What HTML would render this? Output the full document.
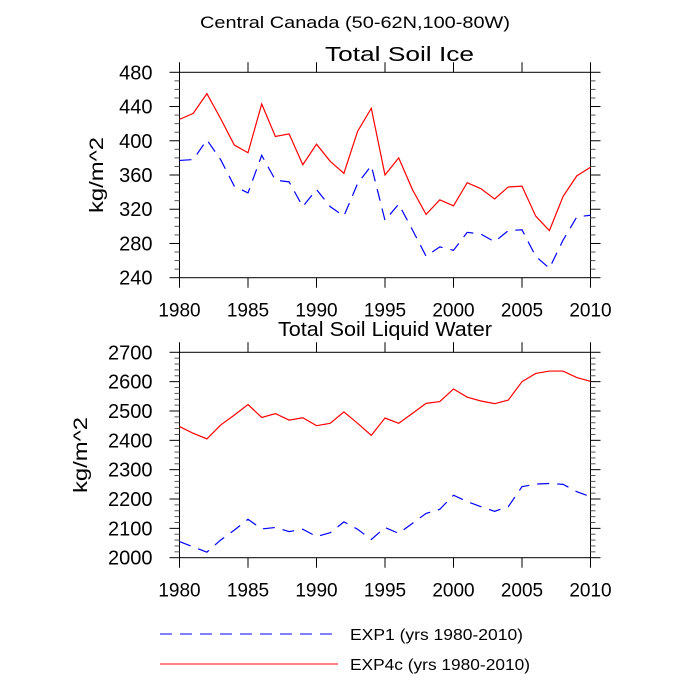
<!DOCTYPE html>
<html><head><meta charset="utf-8"><style>
body{margin:0;background:#fff}
svg{display:block;font-family:"Liberation Sans",sans-serif}
</style></head><body>
<svg id="chart" width="700" height="700" xmlns="http://www.w3.org/2000/svg">
<text x="200" y="28" font-size="17" textLength="310" lengthAdjust="spacingAndGlyphs">Central Canada (50-62N,100-80W)</text>
<text x="325" y="61" font-size="20" textLength="149" lengthAdjust="spacingAndGlyphs">Total Soil Ice</text>
<text x="278" y="336" font-size="20" textLength="214" lengthAdjust="spacingAndGlyphs">Total Soil Liquid Water</text>
<g id="p1"></g><g id="p2"></g>
<line x1="160" y1="634" x2="338" y2="634" stroke="#0000ff" stroke-dasharray="12,8"/>
<text x="350" y="640" font-size="16" textLength="173" lengthAdjust="spacingAndGlyphs">EXP1 (yrs 1980-2010)</text>
<line x1="160" y1="664" x2="338" y2="664" stroke="#ff0000"/>
<text x="350" y="670" font-size="16" textLength="180" lengthAdjust="spacingAndGlyphs">EXP4c (yrs 1980-2010)</text>
</svg>
<script>
const years=[];for(let y=1980;y<=2010;y++)years.push(y);
const xTicks=[1980,1985,1990,1995,2000,2005,2010];
const iceExp4c=[425,432,455,426,395,386,443,405,408,372,396,376,362,411,438,360,380,343,314,331,324,351,344,332,346,347,312,295,335,359,369];
const iceExp1=[377,378,401,378,347,339,383,354,352,323,343,323,312,350,371,307,326,296,265,276,272,293,291,282,295,296,265,251,284,311,313];
const iceTicks=[240,280,320,360,400,440,480];
const waterExp4c=[2447,2424,2405,2452,2486,2522,2478,2491,2469,2477,2450,2458,2497,2458,2417,2476,2458,2492,2526,2532,2575,2547,2534,2525,2537,2600,2628,2636,2636,2614,2601];
const waterExp1=[2055,2037,2019,2060,2094,2131,2098,2103,2089,2097,2072,2085,2122,2097,2062,2103,2083,2117,2151,2165,2213,2191,2174,2158,2174,2242,2251,2253,2250,2225,2208];
const waterTicks=[2000,2100,2200,2300,2400,2500,2600,2700];
const NS="http://www.w3.org/2000/svg";
function mk(g,t,a){const e=document.createElementNS(NS,t);for(const k in a)e.setAttribute(k,a[k]);g.appendChild(e);return e;}
function panel(gid,top,bot,ymin,ymax,ticks,minorStep,s1,s2,nm){
 const g=document.getElementById(gid);const L=179.5,R=590.5;
 const xs=v=>L+(v-1980)/30*(R-L);const ys=v=>bot-(v-ymin)/(ymax-ymin)*(bot-top);
 const fr=mk(g,'rect',{x:L,y:top,width:R-L,height:bot-top,fill:'none',stroke:'#000','stroke-width':1});
 
 
 for(let v=ymin;v<=ymax+1e-6;v+=minorStep){const y=ys(v);const maj=ticks.includes(Math.round(v));const l=maj?10:5;
  mk(g,'line',{x1:L-l,y1:y,x2:L,y2:y,stroke:maj?'#000':'#555'});mk(g,'line',{x1:R,y1:y,x2:R+l,y2:y,stroke:maj?'#000':'#555'});}
 ticks.forEach(v=>{const t=mk(g,'text',{x:L-27,y:ys(v)+7,'font-size':20,'text-anchor':'end'});t.textContent=v;
  
  });
 xTicks.forEach(v=>{const x=xs(v);mk(g,'line',{x1:x,y1:top-10,x2:x,y2:top,stroke:'#000'});mk(g,'line',{x1:x,y1:bot,x2:x,y2:bot+10,stroke:'#000'});
  const t=mk(g,'text',{x:x,y:bot+39,'font-size':19,'text-anchor':'middle'});t.textContent=v;
  
  });
 const yl=mk(g,'text',{x:-38,y:0,'font-size':19,textLength:76,lengthAdjust:'spacingAndGlyphs',transform:`translate(${nm==='ice'?103:87},${(top+bot)/2}) rotate(-90)`});yl.textContent='kg/m^2';
 
 
 const p1=mk(g,'polyline',{points:s1.map((v,i)=>xs(years[i])+','+ys(v)).join(' '),fill:'none',stroke:'#0000ff','stroke-width':1.2,'stroke-dasharray':'12,8'});
 
 
 const p2=mk(g,'polyline',{points:s2.map((v,i)=>xs(years[i])+','+ys(v)).join(' '),fill:'none',stroke:'#ff0000','stroke-width':1.2});
 
 
}
panel('p1',72.3,277.7,240,480,iceTicks,10,iceExp1,iceExp4c,'ice');
panel('p2',352.3,557.7,2000,2700,waterTicks,20,waterExp1,waterExp4c,'water');
</script>
</body></html>
